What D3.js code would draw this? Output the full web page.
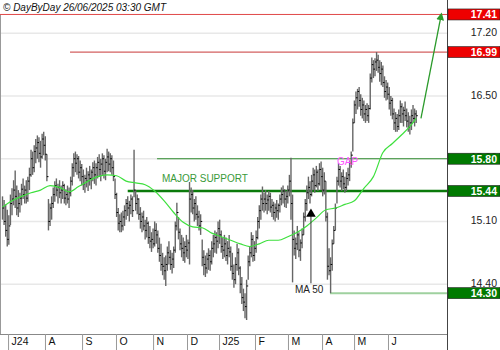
<!DOCTYPE html>
<html><head><meta charset="utf-8">
<script src="https://cdn.jsdelivr.net/npm/d3@7"></script>
<style>body{margin:0;background:#fff}svg{display:block;font-family:"Liberation Sans",Arial,sans-serif}</style>
</head><body><svg id="c" width="500" height="350"></svg>
<script>
// ---- DATA (daily bars) ----
const high=[15.38,15.34,15.29,15.23,15.17,15.40,15.47,15.56,15.67,15.50,
15.45,15.42,15.52,15.58,15.50,15.56,15.60,15.70,15.90,15.88,
15.95,16.02,16.06,16.04,16.00,16.08,16.10,16.05,15.85,15.35,
15.30,15.38,15.48,15.55,15.58,15.52,15.56,15.50,15.55,15.52,
15.46,15.50,15.48,15.60,15.75,15.86,15.88,15.85,15.83,15.78,
15.74,15.68,15.62,15.70,15.66,15.72,15.68,15.76,15.78,15.75,
15.82,15.85,15.80,15.86,15.84,15.80,15.91,15.88,15.86,15.84,
15.78,15.58,15.42,15.25,15.18,15.20,15.22,15.28,15.35,15.38,
15.33,15.40,15.38,15.90,15.45,15.40,15.36,15.26,15.20,15.22,
15.12,15.15,15.10,15.05,14.98,15.02,15.10,15.08,15.00,14.92,
14.85,14.75,14.70,14.72,14.82,14.88,14.78,14.75,14.82,15.10,
15.31,15.15,15.02,14.95,14.92,14.88,14.95,14.90,15.54,15.48,
15.45,15.35,15.38,15.28,15.22,15.18,14.90,14.78,14.72,14.75,
14.80,14.78,14.88,14.95,15.00,14.98,15.10,15.12,15.00,14.92,
14.95,14.92,14.88,14.95,14.82,14.75,14.62,14.70,14.85,14.80,
14.60,14.48,14.35,14.30,14.45,14.72,14.82,14.98,14.95,14.88,
15.00,15.15,15.28,15.40,15.49,15.42,15.45,15.40,15.44,15.42,
15.35,15.32,15.30,15.34,15.30,15.40,15.48,15.50,15.46,15.44,
15.50,15.62,15.81,15.40,15.00,14.92,15.05,14.98,14.90,15.02,
15.20,15.35,15.50,15.60,15.55,15.62,15.70,15.68,15.72,15.68,
15.75,15.77,15.70,15.65,15.55,15.20,14.80,14.70,14.90,15.05,
15.30,15.60,15.75,15.72,15.65,15.68,15.60,15.65,15.70,15.78,
15.88,16.25,16.45,16.55,16.58,16.60,16.52,16.48,16.45,16.40,
16.42,16.40,16.75,16.93,16.90,16.92,16.99,16.96,16.90,16.88,
16.84,16.72,16.68,16.65,16.60,16.50,16.48,16.36,16.32,16.30,
16.35,16.45,16.42,16.38,16.44,16.36,16.32,16.28,16.35,16.40,
16.36,16.34];
const low=[15.12,15.06,14.93,14.82,14.84,15.06,15.17,15.28,15.25,15.17,
15.15,15.20,15.28,15.35,15.30,15.30,15.32,15.45,15.60,15.62,
15.65,15.75,15.80,15.76,15.70,15.80,15.84,15.78,15.55,15.00,
15.05,15.12,15.25,15.32,15.38,15.30,15.36,15.30,15.35,15.30,
15.28,15.30,15.25,15.38,15.50,15.60,15.65,15.62,15.58,15.55,
15.50,15.45,15.42,15.48,15.44,15.50,15.46,15.55,15.52,15.50,
15.58,15.60,15.55,15.62,15.58,15.56,15.65,15.66,15.65,15.62,
15.55,15.35,15.15,15.00,14.98,14.98,15.00,15.05,15.12,15.16,
15.10,15.18,15.15,15.37,15.22,15.18,15.12,15.02,14.98,15.00,
14.90,14.92,14.85,14.80,14.76,14.80,14.82,14.85,14.75,14.65,
14.55,14.50,14.45,14.38,14.55,14.62,14.56,14.52,14.58,14.75,
15.00,14.90,14.78,14.70,14.66,14.64,14.70,14.68,14.62,15.20,
15.18,15.10,15.12,15.05,15.00,14.95,14.60,14.50,14.48,14.52,
14.56,14.55,14.62,14.70,14.75,14.74,14.80,14.85,14.75,14.68,
14.70,14.66,14.62,14.70,14.55,14.45,14.36,14.40,14.55,14.50,
14.30,14.18,14.10,14.02,14.00,14.45,14.60,14.70,14.65,14.66,
14.75,14.90,15.02,15.12,15.22,15.20,15.22,15.18,15.22,15.20,
15.15,15.12,15.10,15.14,15.12,15.20,15.28,15.30,15.26,15.25,
15.30,15.38,15.12,14.42,14.72,14.68,14.78,14.70,14.66,14.80,
14.95,15.10,15.22,15.35,15.30,15.38,15.45,15.42,15.48,15.44,
15.50,15.45,15.38,15.40,15.10,14.45,14.50,14.30,14.55,14.85,
15.00,15.30,15.50,15.48,15.44,15.46,15.42,15.44,15.50,15.55,
15.70,15.88,16.20,16.30,16.35,16.38,16.28,16.25,16.22,16.20,
16.22,16.20,16.35,16.65,16.70,16.72,16.78,16.76,16.66,16.62,
16.60,16.48,16.45,16.46,16.35,16.28,16.24,16.12,16.10,16.10,
16.12,16.20,16.20,16.16,16.22,16.15,16.10,16.07,16.12,16.20,
16.16,16.20];
const close=[15.25,15.10,15.00,14.90,15.05,15.30,15.35,15.45,15.38,15.25,
15.30,15.36,15.46,15.40,15.45,15.36,15.55,15.62,15.80,15.70,
15.88,15.92,15.98,15.86,15.82,16.02,15.95,15.85,15.60,15.10,
15.25,15.30,15.40,15.50,15.45,15.48,15.42,15.45,15.50,15.36,
15.40,15.35,15.42,15.55,15.70,15.80,15.75,15.80,15.65,15.70,
15.60,15.52,15.58,15.55,15.62,15.58,15.65,15.70,15.62,15.70,
15.76,15.68,15.74,15.80,15.66,15.76,15.82,15.74,15.80,15.70,
15.60,15.40,15.20,15.08,15.10,15.05,15.15,15.22,15.30,15.25,
15.28,15.35,15.22,15.45,15.30,15.35,15.18,15.10,15.15,15.05,
15.00,15.08,14.92,14.88,14.90,14.85,15.00,14.95,14.80,14.72,
14.62,14.60,14.55,14.62,14.75,14.70,14.62,14.68,14.78,15.05,
15.20,14.98,14.85,14.80,14.75,14.82,14.78,14.86,15.35,15.40,
15.25,15.30,15.18,15.15,15.05,15.10,14.70,14.62,14.58,14.68,
14.72,14.65,14.80,14.85,14.92,14.88,15.02,14.95,14.82,14.78,
14.85,14.72,14.80,14.76,14.60,14.52,14.45,14.62,14.75,14.58,
14.40,14.25,14.20,14.15,14.38,14.65,14.75,14.90,14.72,14.80,
14.92,15.10,15.22,15.35,15.30,15.35,15.30,15.34,15.38,15.26,
15.28,15.20,15.25,15.22,15.28,15.35,15.40,15.44,15.35,15.38,
15.45,15.55,15.30,14.90,14.80,14.85,14.95,14.78,14.86,14.95,
15.15,15.30,15.42,15.48,15.40,15.55,15.62,15.50,15.65,15.52,
15.68,15.60,15.45,15.55,15.15,14.60,14.55,14.62,14.85,15.00,
15.25,15.55,15.68,15.55,15.60,15.52,15.48,15.58,15.62,15.75,
15.84,16.20,16.40,16.48,16.55,16.45,16.35,16.40,16.30,16.35,
16.28,16.36,16.70,16.85,16.80,16.88,16.90,16.82,16.75,16.80,
16.65,16.55,16.60,16.52,16.42,16.45,16.30,16.20,16.25,16.16,
16.28,16.38,16.30,16.34,16.28,16.22,16.15,16.20,16.28,16.25,
16.30,16.28];
// 50-day moving average, read at every 6th bar
const maIdx=[0,6,12,18,24,30,36,42,48,54,60,66,72,78,84,90,96,102,108,114,120,126,132,138,144,150,156,162,168,174,180,186,192,198,204,210,216,222,228,234,240,246,252,258,261];
const maVal=[15.26,15.33,15.38,15.42,15.45,15.50,15.48,15.43,15.49,15.55,15.60,15.62,15.61,15.55,15.53,15.51,15.44,15.33,15.20,15.09,15.04,15.03,14.97,14.93,14.89,14.85,14.82,14.85,14.89,14.89,14.93,14.98,15.05,15.14,15.23,15.25,15.29,15.33,15.47,15.60,15.87,15.97,16.07,16.18,16.25];
// month ticks (bar positions of month starts)
const monthLabels=["J24","A","S","O","N","D","J25","F","M","A","M","J"];
const monthIdx=[3.5,26.8,50.2,71.6,95,116.4,136.6,159.3,180.1,201.6,221.8,243.2];
// price axis ticks
const yTicks=[14.40,15.10,15.80,16.50,17.20];
// key levels
const levelVal=[17.41,16.99,15.80,15.44,14.30];
const levelFrom=[-2,42.6,97.5,79,206.6];
const levelText=["17.41","16.99","15.80","15.44","14.30"];
// annotations
const arrowFrom=[264,16.25], arrowTo=[276.6,17.39];
const maMark=[194.6,15.16], maMarkEnd=14.41;
const maLabel=[184.5,14.30];
const supportLabel=[100.6,15.54];
const gapLabel=[211,15.73];
const header="© DayByDay 26/06/2025 03:30 GMT";

// ---- CHART ----
const svg=d3.select("#c");
const L=0,R=447,T=15,B=334;
const x=d3.scaleLinear().domain([0,high.length-1]).range([2.5,416.2]);
const y=d3.scaleLinear().domain([13.844,17.404]).range([B,T]);

const defs=svg.append("defs");
defs.append("clipPath").attr("id","clip").append("rect")
  .attr("x",L).attr("y",T-3).attr("width",R-L).attr("height",B-T+3);
defs.append("marker").attr("id","ah").attr("viewBox","0 0 10 10").attr("refX",5).attr("refY",5)
  .attr("markerWidth",6).attr("markerHeight",6).attr("orient","auto")
  .append("path").attr("d","M0,0L10,5L0,10z").attr("fill","#2a9a2a");

// grid
svg.append("g").selectAll("line").data(yTicks).join("line")
  .attr("x1",L).attr("x2",R).attr("y1",d=>y(d)).attr("y2",d=>y(d))
  .attr("stroke","#e8e8e8").attr("stroke-width",1.6);

// header
svg.append("text").attr("x",3).attr("y",11).attr("font-size",10).attr("font-style","italic")
  .attr("fill","#111").text(header);

const g=svg.append("g").attr("clip-path","url(#clip)");

// level lines
const lvlColor=["#e04848","#c83838","#2e8b2e","#0b7a0b","#9fd19f"];
const lvlWidth=[1,1,1.2,2.6,2];
g.append("g").selectAll("line").data(levelVal).join("line")
  .attr("x1",(d,i)=>Math.max(L,x(levelFrom[i]))).attr("x2",R)
  .attr("y1",d=>y(d)).attr("y2",d=>y(d))
  .attr("stroke",(d,i)=>lvlColor[i]).attr("stroke-width",(d,i)=>lvlWidth[i]);

// bars
const idx=d3.range(high.length);
g.append("g").selectAll("line").data(idx).join("line")
  .attr("x1",i=>x(i)).attr("x2",i=>x(i))
  .attr("y1",i=>y(high[i])).attr("y2",i=>y(low[i]))
  .attr("stroke","#666").attr("stroke-width",1.4);
g.append("g").selectAll("line").data(idx).join("line")
  .attr("x1",i=>x(i)).attr("x2",i=>x(i)+1.6)
  .attr("y1",i=>y(close[i])).attr("y2",i=>y(close[i]))
  .attr("stroke","#000").attr("stroke-width",1);

// MA 50
g.append("path").datum(maIdx)
  .attr("d",d3.line().x(i=>x(i)).y((i,k)=>y(maVal[k])).curve(d3.curveMonotoneX))
  .attr("fill","none").attr("stroke","#3ee03e").attr("stroke-width",1.2);

// annotations
g.append("line").attr("x1",x(maMark[0])).attr("x2",x(maMark[0]))
  .attr("y1",y(maMark[1])).attr("y2",y(maMarkEnd)).attr("stroke","#333").attr("stroke-width",1);
g.append("path").attr("d",d3.symbol().type(d3.symbolTriangle).size(40)())
  .attr("transform",`translate(${x(maMark[0])},${y(maMark[1])-2})`).attr("fill","#000");
svg.append("text").attr("x",x(maLabel[0])).attr("y",y(maLabel[1])).attr("font-size",10)
  .attr("fill","#222").text("MA 50");
svg.append("text").attr("x",x(supportLabel[0])).attr("y",y(supportLabel[1])).attr("font-size",10)
  .attr("fill","#3a9a3a").text("MAJOR SUPPORT");
svg.append("text").attr("x",x(gapLabel[0])).attr("y",y(gapLabel[1])).attr("font-size",10)
  .attr("fill","#ff55ff").text("GAP");
svg.append("line").attr("x1",x(arrowFrom[0])).attr("y1",y(arrowFrom[1]))
  .attr("x2",x(arrowTo[0])).attr("y2",y(arrowTo[1]))
  .attr("stroke","#2a9a2a").attr("stroke-width",1.3).attr("marker-end","url(#ah)");

// frame
svg.append("line").attr("x1",0.5).attr("x2",0.5).attr("y1",T).attr("y2",B).attr("stroke","#999");
svg.append("line").attr("x1",R+0.5).attr("x2",R+0.5).attr("y1",0).attr("y2",350).attr("stroke","#444");

// x axis
const xa=d3.axisBottom(x).tickValues(monthIdx).tickFormat((d,i)=>monthLabels[i]).tickSize(16).tickSizeOuter(0);
const xg=svg.append("g").attr("transform",`translate(0,${B})`).call(xa);
xg.select(".domain").attr("d",`M${L},0.5H${R}`).attr("stroke","#888");
xg.selectAll(".tick line").attr("stroke","#999");
xg.selectAll(".tick text").attr("text-anchor","start").attr("x",3).attr("y",4)
  .attr("font-size",10.5).attr("font-family","'Liberation Sans',Arial").attr("fill","#111");

// y axis labels
const ya=d3.axisRight(y).tickValues(yTicks).tickFormat(d3.format(".2f")).tickSize(0);
const yg=svg.append("g").attr("transform",`translate(${R},0)`).call(ya);
yg.select(".domain").remove();
yg.selectAll(".tick text").attr("text-anchor","end").attr("x",50).attr("dy","0.2em")
  .attr("font-size",10.5).attr("font-family","'Liberation Sans',Arial").attr("fill","#222");

// level boxes
const boxFill=["#ee0000","#ee0000","#007a00","#007a00","#007a00"];
const bg=svg.append("g").selectAll("g").data(levelVal).join("g")
  .attr("transform",d=>`translate(${R+1},${y(d)})`);
bg.append("rect").attr("x",0).attr("y",-5.5).attr("width",52).attr("height",11)
  .attr("fill",(d,i)=>boxFill[i]).attr("stroke","#222").attr("stroke-width",0.6);
bg.append("text").attr("x",49).attr("dy","0.36em").attr("text-anchor","end")
  .attr("font-size",10.5).attr("font-weight","bold").attr("fill","#fff").text((d,i)=>levelText[i]);
</script></body></html>
